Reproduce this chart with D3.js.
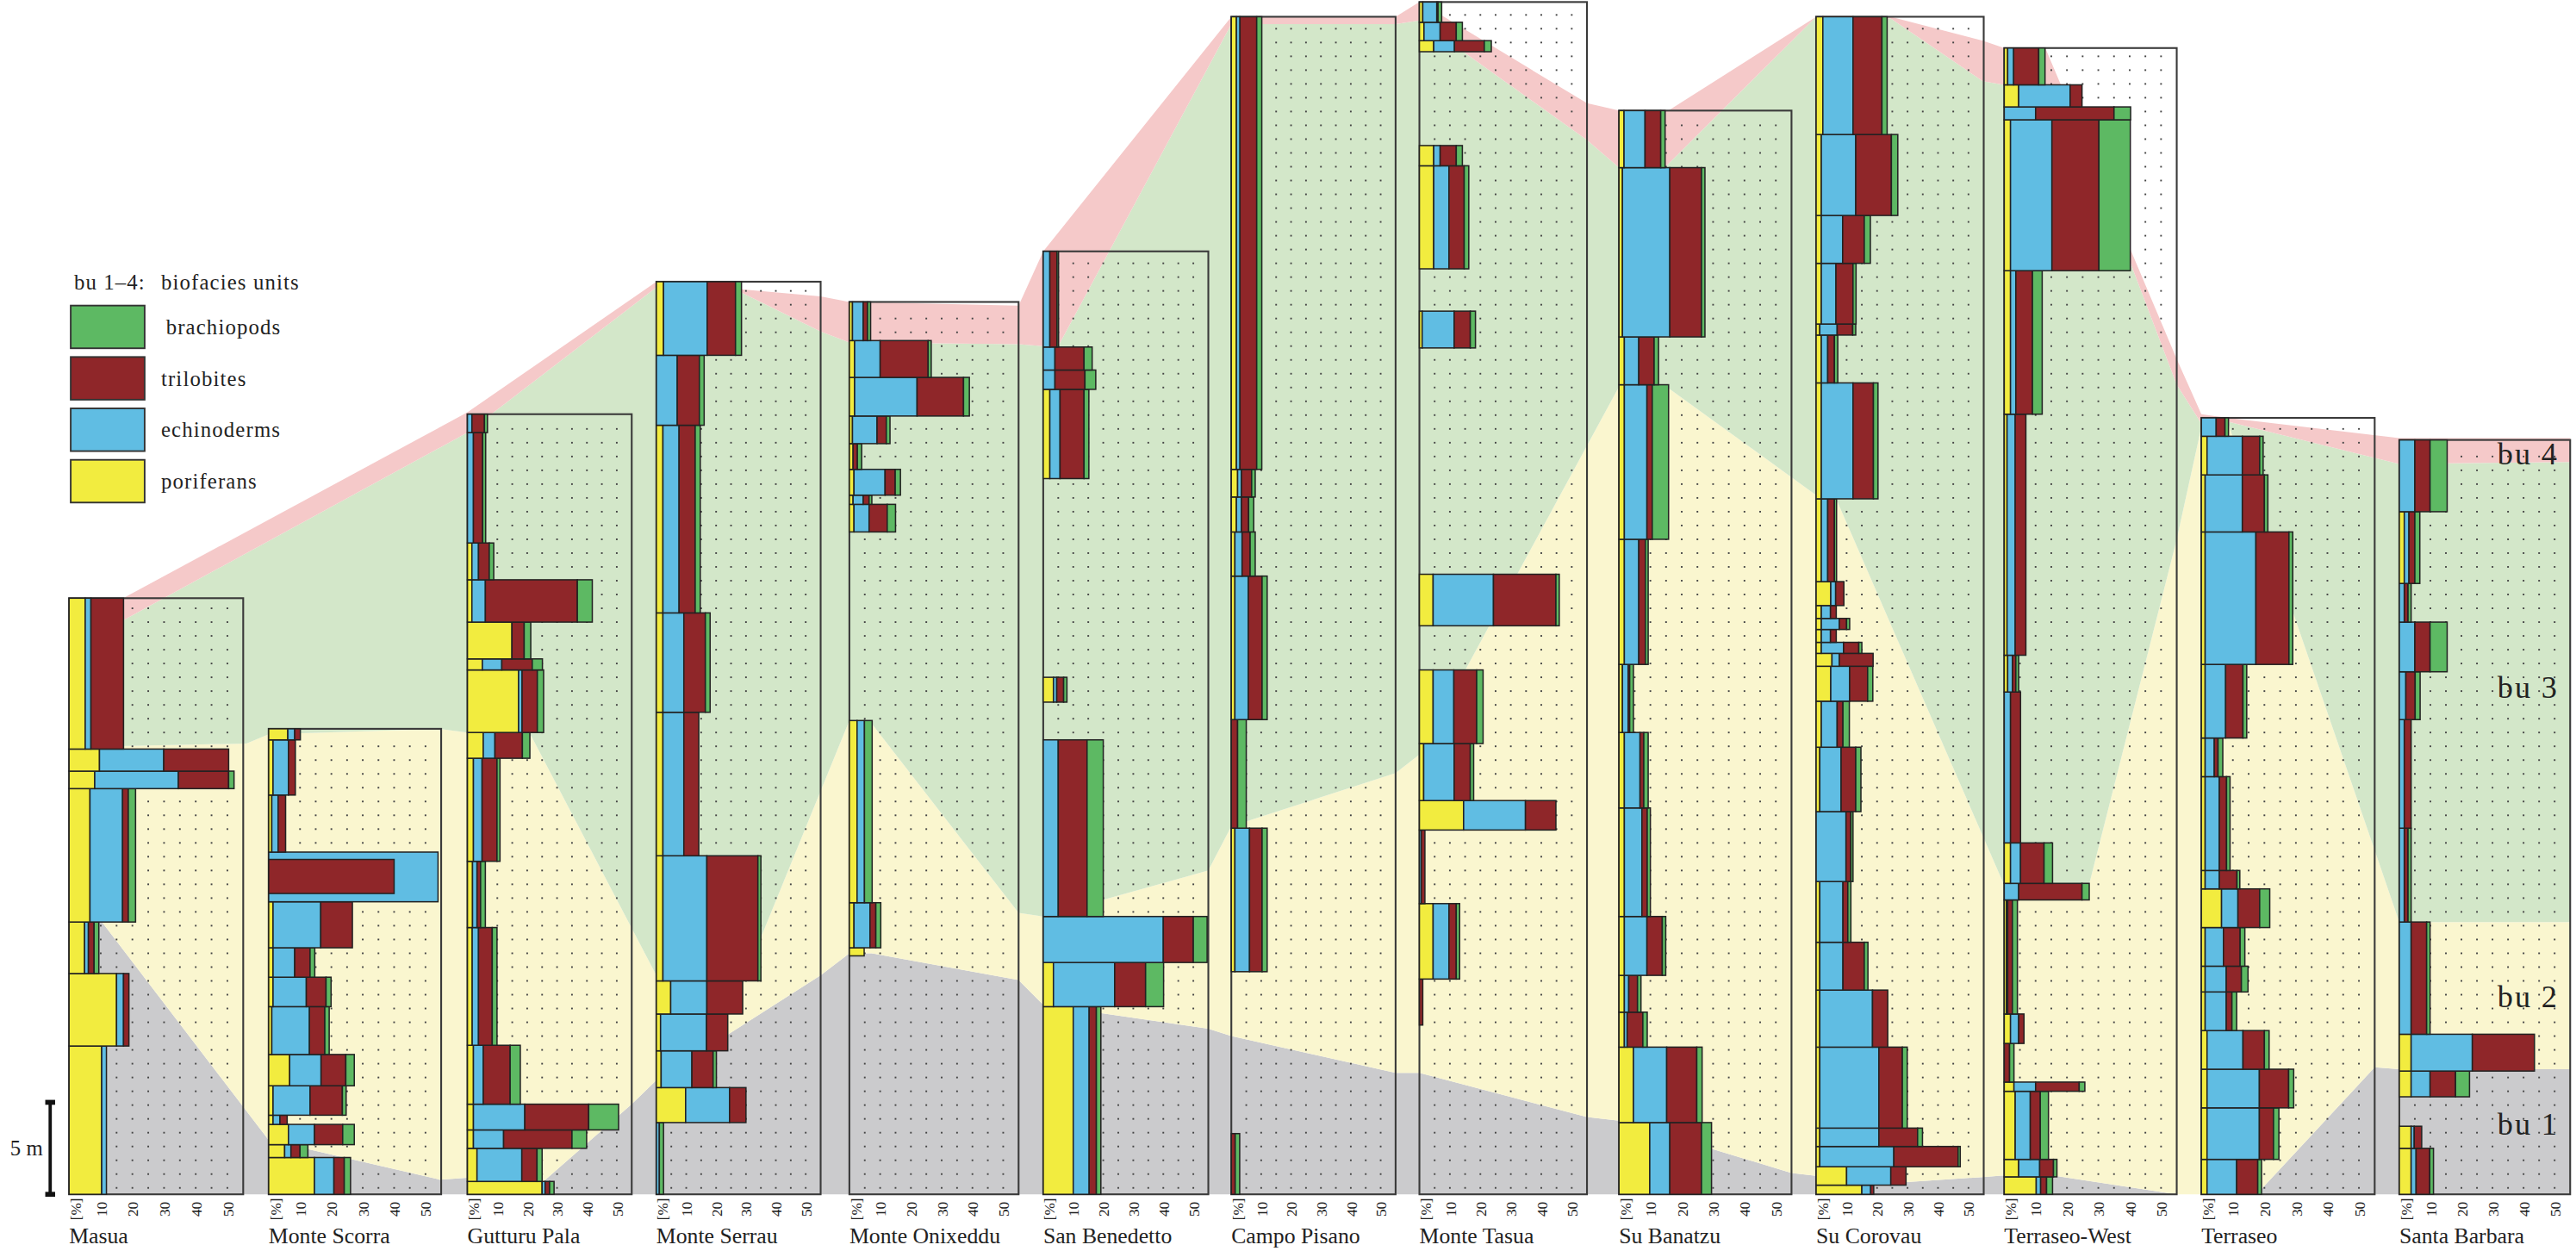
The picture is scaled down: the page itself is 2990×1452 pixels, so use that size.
<!DOCTYPE html>
<html>
<head>
<meta charset="utf-8">
<script src="https://cdn.jsdelivr.net/npm/d3@7"></script>
<style>
  html, body { margin: 0; padding: 0; background: #fff; }
  text { font-family: "Liberation Serif", "Times New Roman", serif; fill: #222; }
</style>
</head>
<body>
<svg id="chart" width="2990" height="1452" viewBox="0 0 1568 761.5"></svg>
<script>
// sections, west -> east
var sections = ['Masua', 'Monte Scorra', 'Gutturu Pala', 'Monte Serrau', 'Monte Onixeddu',
  'San Benedetto', 'Campo Pisano', 'Monte Tasua', 'Su Banatzu', 'Su Corovau',
  'Terraseo-West', 'Terraseo', 'Santa Barbara'];
// section thickness [m]
var thickness = [32.4, 25.3, 42.4, 49.6, 48.5, 51.25, 64.0, 64.8, 58.9, 64.0, 62.3, 42.2, 41.0];

var groups = ['poriferans', 'echinoderms', 'trilobites', 'brachiopods'];
var percentTicks = [10, 20, 30, 40, 50];

// samples: [base m, top m, poriferans %, echinoderms %, trilobites %, brachiopods %]
var masua = [
  [0, 8.06, 10.3, 1.5, 0, 0], [8.06, 12.0, 15, 2.2, 1.7, 0], [12.0, 14.8, 4.9, 1.2, 1.8, 1.5],
  [14.8, 22.05, 6.6, 10.3, 1.8, 2.3], [22.05, 23.0, 8.1, 26.4, 15.9, 1.7], [23.0, 24.2, 9.6, 20.3, 20.5, 0],
  [24.2, 32.4, 5.1, 1.8, 10.3, 0]
];
var monteScorra = [
  [0, 2.0, 14.6, 6.2, 3.3, 2], [2.0, 2.7, 5.1, 2, 2.9, 2.5], [2.7, 3.8, 6.3, 8.3, 9, 3.7],
  [3.8, 4.3, 1.4, 2.2, 2.3, 0], [4.3, 5.9, 1.4, 11.8, 10.3, 1.2], [5.9, 7.6, 6.7, 10, 7.9, 2.7],
  [7.6, 10.2, 1, 12, 4.9, 1.4], [10.2, 11.8, 1.4, 10.6, 6.3, 1.6], [11.8, 13.4, 1.4, 6.9, 4.9, 1.5],
  [13.4, 15.9, 1.4, 15.2, 10.1, 0], [15.9, 18.6, 0, 54, 0, 0], [16.35, 18.2, 0, 0, 40, 0],
  [18.6, 21.7, 1, 2, 2.4, 0], [21.7, 24.7, 1.4, 4.9, 2.2, 0], [24.7, 25.3, 6.1, 2.2, 1.8, 0]
];
var gutturuPala = [
  [0, 0.7, 25, 1, 1.5, 1.5], [0.7, 2.5, 3.2, 15, 5.1, 1.7], [2.5, 3.5, 2, 10.1, 22.9, 4.9],
  [3.5, 4.9, 2, 17.2, 21.4, 10], [4.9, 8.1, 2, 3.3, 9, 3.4], [8.1, 14.5, 1.6, 2.1, 4.6, 1.6],
  [14.5, 18.1, 1.7, 1.5, 1.2, 1.6], [18.1, 23.7, 2, 2.9, 5, 1], [23.7, 25.1, 5.3, 3.9, 9.2, 2.5],
  [25.1, 28.5, 17.1, 1.2, 5.1, 2.1], [28.5, 29.1, 5, 6.5, 10.2, 3.4], [29.1, 31.1, 14.9, 0, 4.1, 2.2],
  [31.1, 33.4, 1.5, 4.5, 30.8, 5], [33.4, 35.4, 1.5, 2.2, 3.6, 1.5], [35.4, 41.4, 0, 2, 3.1, 1],
  [41.4, 42.4, 0, 1.5, 4.2, 1]
];
var monteSerrau = [
  [0, 3.9, 0, 1, 0, 1.4], [3.9, 5.8, 9.8, 14.7, 5.5, 0], [5.8, 7.8, 1.6, 10.3, 7.1, 1.1],
  [7.8, 9.8, 1.4, 15.4, 7.1, 0], [9.8, 11.6, 4.8, 12.1, 12, 0], [11.6, 18.4, 2.2, 14.7, 17.1, 1],
  [18.4, 26.2, 2.2, 7, 5, 0], [26.2, 31.6, 2.2, 7, 7.2, 1.6], [31.6, 41.8, 2.2, 5.4, 5.4, 1.7],
  [41.8, 45.6, 0, 7, 7.4, 1.6], [45.6, 49.6, 2.4, 14.6, 9.5, 2]
];
var monteOnixeddu = [
  [12.96, 13.4, 4.8, 0, 0, 0], [13.4, 15.85, 1.5, 5.2, 1.9, 1.6], [15.85, 25.75, 2.5, 2.4, 0, 2.5],
  [36.0, 37.5, 1.5, 4.9, 5.9, 2.7], [37.5, 38.0, 1.2, 3.3, 1.9, 0.9], [38.0, 39.4, 1.5, 10.1, 3.3, 1.7],
  [39.4, 40.8, 1.2, 0, 1.4, 1.4], [40.8, 42.3, 1, 8, 3, 1.2], [42.3, 44.4, 1.7, 20.3, 15.1, 1.9],
  [44.4, 46.4, 1.7, 8.3, 15.6, 1], [46.4, 48.5, 1, 3.5, 1.4, 1]
];
var sanBenedetto = [
  [0, 10.2, 10, 5.3, 2.4, 1.5], [10.2, 12.6, 3.4, 20.4, 10.3, 6], [12.6, 15.1, 0, 40, 10, 4.6],
  [15.1, 24.7, 0, 5, 9.6, 5.4], [26.75, 28.1, 3.4, 1.1, 2.3, 1.1], [38.9, 43.75, 2.2, 3.4, 8, 1.6],
  [43.75, 44.8, 0, 3.9, 10, 3.6], [44.8, 46.05, 0, 3.9, 9.7, 2.7], [46.05, 51.25, 0, 2.2, 2.4, 0.5]
];
var campoPisano = [
  [0, 3.3, 0, 0, 1.3, 1.5], [12.1, 19.9, 1.2, 4.9, 4.2, 1.7], [19.9, 25.8, 0, 0, 2.1, 2.9],
  [25.8, 33.6, 1.2, 4.5, 4.6, 1.7], [33.6, 36.0, 1.2, 2.4, 2.7, 1.7], [36.0, 37.9, 1.7, 1.7, 2.4, 1.7],
  [37.9, 39.4, 2.1, 1.3, 3.4, 1.2], [39.4, 64.0, 1.7, 1.2, 5.6, 1.7]
];
var monteTasua = [
  [9.2, 11.7, 0, 0, 1.1, 0], [11.7, 15.8, 4.5, 5.2, 2.4, 1.1], [15.8, 19.8, 0, 0.6, 1.2, 0],
  [19.8, 21.4, 14.5, 20.3, 10, 0], [21.4, 24.5, 1.4, 10, 5.3, 1.1], [24.5, 28.5, 4.5, 6.8, 7.5, 2.1],
  [30.9, 33.7, 4.5, 19.8, 20.5, 1.1], [46.0, 48.0, 0.9, 10.5, 5.3, 1.7], [50.3, 55.9, 4.7, 5, 5, 1.5],
  [55.9, 57.0, 4.7, 2.1, 5.3, 2], [62.1, 62.7, 4.7, 6.8, 9.8, 2.3], [62.7, 63.7, 1.5, 5.3, 5.3, 2],
  [63.7, 64.8, 1.1, 4.6, 0.4, 1.2]
];
var suBanatzu = [
  [0, 3.9, 9.8, 6.4, 10.1, 3.2], [3.9, 8.0, 4.6, 10.6, 9.6, 1.7], [8.0, 9.9, 1.7, 0.9, 5, 1.4],
  [9.9, 11.9, 1.7, 1.4, 2.8, 1.1], [11.9, 15.1, 1.7, 7.2, 4.9, 1.1], [15.1, 21.0, 1.7, 5.6, 1.7, 1],
  [21.0, 25.1, 1.7, 5, 1.2, 1.4], [25.1, 28.8, 1.1, 1.8, 0.5, 1.2], [28.8, 35.6, 1.7, 4.6, 2.1, 0.9],
  [35.6, 44.0, 1.7, 7.2, 1.7, 5.2], [44.0, 46.6, 1.7, 4.6, 4.9, 1.4], [46.6, 55.8, 1.1, 15.1, 10.1, 1.1],
  [55.8, 58.9, 1.6, 6.7, 5, 1.4]
];
var suCorovau = [
  [0, 0.5, 15, 2.9, 1, 0], [0.5, 1.5, 10, 14.5, 5, 0], [1.5, 2.6, 1.2, 24.3, 21.1, 0.7],
  [2.6, 3.6, 1.2, 19.4, 12.7, 1.6], [3.6, 8.0, 1.2, 19.4, 7.7, 1.6], [8.0, 11.1, 1.2, 17.3, 5, 0],
  [11.1, 13.7, 1.2, 7.6, 7, 1.2], [13.7, 17.0, 1.2, 7.6, 1.6, 1], [17.0, 20.8, 0, 9.8, 1.6, 0.7],
  [20.8, 24.3, 1.2, 7, 4.8, 1.7], [24.3, 26.8, 1.7, 5.2, 1.9, 2.1], [26.8, 28.7, 4.8, 6.2, 5.9, 1.7],
  [28.7, 29.4, 5.2, 2.4, 11.1, 0], [29.4, 30.0, 1.7, 7.3, 5, 1], [30.0, 30.7, 1.7, 3, 1.9, 0],
  [30.7, 31.3, 1.7, 5.9, 2.4, 1], [31.3, 32.0, 1.7, 3, 1.9, 0], [32.0, 33.3, 4.8, 1.6, 2.7, 0],
  [33.3, 37.8, 1.7, 2.1, 2.2, 0.7], [37.8, 44.1, 1.7, 10.4, 6.7, 1.5], [44.1, 46.7, 1.7, 2.1, 2.2, 1.1],
  [46.7, 47.3, 1.2, 5.7, 5.1, 1], [47.3, 50.6, 1.7, 4.8, 5.6, 1], [50.6, 53.2, 1.7, 7, 7.1, 2],
  [53.2, 57.6, 1.7, 11.3, 11.7, 2.1], [57.6, 64.0, 2.2, 9.9, 9.5, 1.7]
];
var terraseoWest = [
  [0, 0.95, 10.2, 1.4, 1.9, 1.9], [0.95, 1.9, 4.6, 6.7, 4.4, 1.1], [1.9, 5.6, 3.5, 4.8, 3.2, 2.6],
  [5.6, 6.1, 3.1, 6.9, 13.9, 1.8], [6.1, 8.2, 0, 0, 1.7, 1.4], [8.2, 9.8, 2, 2.6, 1.7, 0],
  [9.8, 16.0, 0.7, 0.4, 1.5, 1.6], [16.0, 16.9, 0, 4.6, 20.2, 2.3], [16.9, 19.1, 2, 3.2, 7.5, 2.7],
  [19.1, 27.3, 0, 2, 3.2, 0], [27.3, 29.3, 1.1, 1.5, 1.1, 0.9], [29.3, 42.4, 0.9, 2.6, 3.4, 0],
  [42.4, 50.2, 2, 1.7, 5.3, 3.1], [50.2, 58.4, 2, 13.2, 15, 10], [58.4, 59.1, 0, 10, 25, 5.3],
  [59.1, 60.3, 4.6, 16.4, 3.8, 0], [60.3, 62.3, 1.1, 1.9, 8, 2]
];
var terraseo = [
  [0, 1.9, 1.8, 9.4, 6.7, 1.2], [1.9, 4.7, 1.8, 16.6, 4.5, 1.7], [4.7, 6.8, 1.8, 16.6, 9.3, 1.6],
  [6.8, 8.9, 1.8, 11.4, 6.8, 1.5], [8.9, 11.0, 1.2, 6.7, 1.8, 1.5], [11.0, 12.4, 1.2, 6.7, 4.8, 2.1],
  [12.4, 14.5, 1.2, 5.8, 5.3, 1.5], [14.5, 16.6, 6.4, 5.2, 6.9, 3.2], [16.6, 17.6, 1.2, 4.5, 5.6, 0.9],
  [17.6, 22.7, 1.2, 4.5, 2.3, 1.1], [22.7, 24.8, 1.2, 2.9, 1.2, 1.5], [24.8, 28.8, 1.2, 6.5, 5.5, 1.2],
  [28.8, 36.0, 1.2, 16.1, 10.5, 1.2], [36.0, 39.1, 1.2, 11.8, 7, 1.1], [39.1, 41.2, 1.8, 11.2, 5.5, 1.1],
  [41.2, 42.2, 0, 4.7, 2.8, 1.1]
];
var santaBarbara = [
  [0, 2.5, 3.8, 1.6, 4.4, 1.2], [2.5, 3.7, 3.8, 1, 2.4, 0], [5.3, 6.7, 3.8, 6.1, 8.2, 4.5],
  [6.7, 8.7, 3.8, 19.7, 20, 0], [8.7, 14.8, 0, 3.8, 5, 1.1], [14.8, 19.9, 0, 1.6, 1.2, 1],
  [19.9, 25.8, 0, 1.6, 2.2, 0], [25.8, 28.4, 0, 2.1, 3, 1.6], [28.4, 31.1, 0, 5, 4.9, 5.5],
  [31.1, 33.2, 0, 1.6, 1.2, 1], [33.2, 37.1, 1.6, 1.5, 1.9, 1.6], [37.1, 41.0, 0, 5, 4.9, 5.5]
];
var samples = [masua, monteScorra, gutturuPala, monteSerrau, monteOnixeddu, sanBenedetto,
  campoPisano, monteTasua, suBanatzu, suCorovau, terraseoWest, terraseo, santaBarbara];

// biofacies-unit boundaries: [section, position on its % axis, height m]
var bu4Top = [[0,0,32.4],[0,17.1,32.4],[2,0,42.5],[3,0,49.6],[3,55,48.8],[4,0,48.5],[4,55,48.3],
  [5,0,51.25],[6,0,64.0],[6,55,64.0],[7,0,64.8],[7,55,59.3],[8,0,58.9],[8,15.8,58.9],[9,0,64.0],
  [9,24.5,64.0],[9,54.7,62.7],[10,0,62.3],[10,13.1,62.3],[10,55,45.4],[11,0,42.4],[11,8.3,42.2],
  [12,0,41.1],[12,55,41.1]];
var bu3Top = [[0,0,31.2],[0,17.1,31.2],[2,0,41.4],[3,0,49.3],[3,28.6,49.0],[3,55,46.9],[4,0,46.3],
  [4,55,46.2],[5,0,46.1],[5,5.5,46.25],[6,0,63.6],[6,55,63.6],[7,0,63.8],[7,55,57.3],[8,0,55.8],
  [8,15.1,55.9],[9,0,64.0],[9,24.5,63.9],[9,54.7,60.5],[10,0,60.3],[10,18.9,60.2],[10,55,44.0],
  [11,0,41.9],[11,8.3,42.0],[12,0,39.7],[12,55,39.8]];
var bu2Top = [[0,0,24.3],[0,56,24.5],[1,0,25.0],[1,54.5,25.3],[2,0,25.1],[2,21.4,24.9],[3,0,11.9],
  [3,28.3,11.3],[4,0,25.75],[4,7.2,25.6],[4,55,15.3],[5,0,15.1],[5,55,17.6],[6,0,20.0],[6,55,22.9],
  [7,0,23.9],[8,0,43.9],[8,15.1,43.9],[9,0,38.0],[9,7.1,37.6],[10,0,16.8],[10,27,16.8],[10,55,35.6],
  [11,0,41.7],[11,8.3,42.0],[12,0,14.8],[12,55,14.8]];
var bu1Top = [[0,0,14.8],[0,10.4,14.8],[1,0,2.95],[1,54.5,0.8],[2,0,0.9],[2,25.2,0.67],[2,55,4.9],
  [3,0,6.2],[3,55,11.9],[4,0,13.1],[4,7.2,13.1],[4,55,11.65],[5,0,10.3],[5,55,9.0],[6,0,8.6],
  [6,55,6.6],[7,0,6.6],[7,55,4.2],[8,0,4.0],[8,55,1.16],[9,0,1.0],[9,18.3,0.54],[9,54.7,0.94],
  [10,0,1.03],[10,13.5,1.07],[10,55,0],[11,17.5,0],[11,55,6.9],[12,0,6.8],[12,55,6.8]];
var buLabels = [['bu 4', 40.2], ['bu 3', 27.5], ['bu 2', 10.7], ['bu 1', 3.8]];

// ---- layout ----
var colLeft = [42, 163.5, 284.5, 399.5, 517, 635, 749.5, 864, 985.5, 1105.5, 1220, 1340, 1460.5];
var colWidth = [106, 105, 100, 100, 103, 100.5, 100, 102, 105, 102, 105, 105.5, 104];
var baseY = 727, pxPerM = 11.2;

var colors = { poriferans: '#f2ec3f', echinoderms: '#60bde3', trilobites: '#8f2629', brachiopods: '#5db963' };
var zoneColors = ['#cbcbcd', '#faf6cf', '#d3e7c9', '#f5c9c9'];

var svg = d3.select('#chart');
var y = d3.scaleLinear().domain([0, 65]).range([baseY, baseY - 65 * pxPerM]);
var xs = sections.map(function(s, i) {
  return d3.scaleLinear().domain([0, 55]).range([colLeft[i], colLeft[i] + colWidth[i]]);
});

function toXY(p) { return [xs[p[0]](p[1]), y(p[2])]; }
var line = d3.line();

// biofacies zones
var zones = [
  bu1Top.concat([[12, 55, 0], [0, 0, 0]]),
  bu2Top.concat(bu1Top.slice().reverse()),
  bu3Top.concat(bu2Top.slice().reverse()),
  bu4Top.concat(bu3Top.slice().reverse())
];
svg.append('g').selectAll('path')
  .data(zones).enter().append('path')
    .attr('d', function(d) { return line(d.map(toXY)) + 'Z'; })
    .attr('fill', function(d, i) { return zoneColors[i]; })
    .attr('stroke', 'none');

// one group per section
var col = svg.selectAll('.section')
  .data(sections).enter().append('g')
    .attr('class', 'section');

// dotted grid
col.each(function(name, i) {
  var g = d3.select(this).append('g');
  var dots = [];
  for (var m = 0.35; m < thickness[i] - 0.2; m += 0.75) {
    for (var p = 5; p <= 50; p += 5) dots.push([p, m]);
  }
  g.selectAll('rect').data(dots).enter().append('rect')
    .attr('x', function(d) { return xs[i](d[0]) - 0.5; })
    .attr('y', function(d) { return y(d[1]) - 0.5; })
    .attr('width', 1).attr('height', 1)
    .attr('fill', '#444');
});

// section frames
col.append('rect')
  .attr('x', function(d, i) { return xs[i](0); })
  .attr('y', function(d, i) { return y(thickness[i]); })
  .attr('width', function(d, i) { return xs[i](55) - xs[i](0); })
  .attr('height', function(d, i) { return y(0) - y(thickness[i]); })
  .attr('fill', 'none')
  .attr('stroke', '#3a3a3a')
  .attr('stroke-width', 1.1);

// stacked bars
col.each(function(name, i) {
  var segs = [];
  samples[i].forEach(function(s) {
    var cum = 0;
    groups.forEach(function(grp, k) {
      var v = s[2 + k];
      if (v > 0) segs.push({ b: s[0], t: s[1], x0: cum, x1: cum + v, grp: grp });
      cum += v;
    });
  });
  d3.select(this).append('g').selectAll('rect')
    .data(segs).enter().append('rect')
      .attr('x', function(d) { return xs[i](d.x0); })
      .attr('y', function(d) { return y(d.t); })
      .attr('width', function(d) { return xs[i](d.x1) - xs[i](d.x0); })
      .attr('height', function(d) { return y(d.b) - y(d.t); })
      .attr('fill', function(d) { return colors[d.grp]; })
      .attr('stroke', '#222')
      .attr('stroke-width', 0.8);
});

// % axis labels (rotated)
col.each(function(name, i) {
  var g = d3.select(this).append('g');
  var labs = [['[%]', 2]].concat(percentTicks.map(function(t) { return [String(t), t]; }));
  g.selectAll('text').data(labs).enter().append('text')
    .attr('transform', function(d) { return 'translate(' + (xs[i](d[1]) + 0.5) + ',' + (baseY + 9) + ') rotate(-90)'; })
    .attr('text-anchor', 'middle')
    .attr('dy', '0.33em')
    .style('font-size', '9px')
    .text(function(d) { return d[0]; });
});

// section names
col.append('text')
  .attr('x', function(d, i) { return xs[i](0); })
  .attr('y', baseY + 30)
  .style('font-size', '13.5px')
  .text(function(d) { return d; });

// biofacies unit labels (in Santa Barbara)
svg.append('g').selectAll('text')
  .data(buLabels).enter().append('text')
    .attr('x', xs[12](55) - 7)
    .attr('y', function(d) { return y(d[1]) + 6; })
    .attr('text-anchor', 'end')
    .style('font-size', '19px')
    .style('letter-spacing', '1px')
    .text(function(d) { return d[0]; });

// legend
var legendItems = ['brachiopods', 'trilobites', 'echinoderms', 'poriferans'];
var leg = svg.append('g').attr('transform', 'translate(43,186)');
leg.append('text').attr('x', 2).attr('y', -10).style('font-size', '13px').style('letter-spacing', '0.6px').text('bu 1\u20134:');
leg.append('text').attr('x', 55).attr('y', -10).style('font-size', '13px').style('letter-spacing', '0.6px').text('biofacies units');
var li = leg.selectAll('.li').data(legendItems).enter().append('g')
  .attr('class', 'li')
  .attr('transform', function(d, i) { return 'translate(0,' + (i * 31.3) + ')'; });
li.append('rect').attr('width', 45).attr('height', 26)
  .attr('fill', function(d) { return colors[d]; })
  .attr('stroke', '#333').attr('stroke-width', 1);
li.append('text').attr('x', function(d, i) { return i === 0 ? 58 : 55; }).attr('y', 17.5)
  .style('font-size', '13px').style('letter-spacing', '0.6px')
  .text(function(d) { return d; });

// 5 m scale bar
var sb = svg.append('g');
sb.append('line').attr('x1', 30.5).attr('x2', 30.5).attr('y1', y(5)).attr('y2', y(0))
  .attr('stroke', '#111').attr('stroke-width', 2);
sb.selectAll('rect').data([5, 0]).enter().append('rect')
  .attr('x', 27.5).attr('width', 6).attr('y', function(d) { return y(d) - 1.5; }).attr('height', 3)
  .attr('fill', '#111');
sb.append('text').attr('x', 26).attr('y', y(2.5) + 4.5).attr('text-anchor', 'end')
  .style('font-size', '13px').text('5 m');
</script>
</body>
</html>
